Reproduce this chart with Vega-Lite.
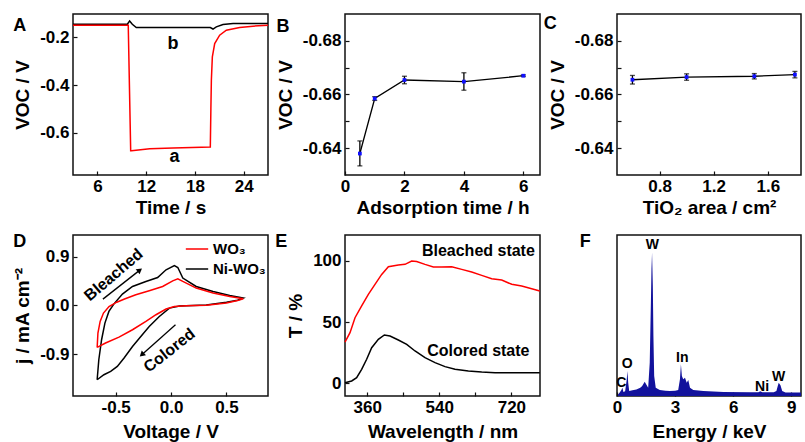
{
 "$schema": "https://vega.github.io/schema/vega-lite/v6.json",
 "background": "white",
 "padding": {"left": 12, "top": 13, "right": 0, "bottom": 0},
 "autosize": {"type": "pad"},
 "columns": 3,
 "spacing": {"row": 60, "column": 77},
 "bounds": "flush",
 "resolve": {"scale": {"color": "independent"}, "legend": {"color": "independent"}},
 "datasets": {
  "A": [
   {"s":"b","t":3,"v":-0.145},{"s":"b","t":9.69,"v":-0.145},{"s":"b","t":9.97,"v":-0.131},{"s":"b","t":10.3,"v":-0.145},{"s":"b","t":10.79,"v":-0.159},{"s":"b","t":15.3,"v":-0.159},{"s":"b","t":19.9,"v":-0.159},{"s":"b","t":20.23,"v":-0.165},{"s":"b","t":20.64,"v":-0.156},{"s":"b","t":21.46,"v":-0.146},{"s":"b","t":22.7,"v":-0.142},{"s":"b","t":27,"v":-0.142},
   {"s":"a","t":3,"v":-0.149},{"s":"a","t":9.8,"v":-0.149},{"s":"a","t":10.1,"v":-0.675},{"s":"a","t":10.2,"v":-0.675},{"s":"a","t":12.44,"v":-0.667},{"s":"a","t":15.31,"v":-0.664},{"s":"a","t":19.9,"v":-0.66},{"s":"a","t":19.97,"v":-0.5},{"s":"a","t":20.03,"v":-0.38},{"s":"a","t":20.15,"v":-0.282},{"s":"a","t":20.44,"v":-0.226},{"s":"a","t":21.05,"v":-0.191},{"s":"a","t":21.87,"v":-0.17},{"s":"a","t":23.51,"v":-0.159},{"s":"a","t":25.15,"v":-0.153},{"s":"a","t":27,"v":-0.149}
  ],
  "B": [
   {"h":0.5,"v":-0.638,"lo":-0.6427,"hi":-0.6334},
   {"h":1,"v":-0.6585,"lo":-0.6592,"hi":-0.6578},
   {"h":2,"v":-0.6654,"lo":-0.6668,"hi":-0.664},
   {"h":4,"v":-0.6648,"lo":-0.6681,"hi":-0.6616},
   {"h":6,"v":-0.667,"lo":-0.6673,"hi":-0.6667}
  ],
  "C": [
   {"a":0.6,"v":-0.6655,"lo":-0.6671,"hi":-0.6639},
   {"a":1.0,"v":-0.6665,"lo":-0.6677,"hi":-0.6653},
   {"a":1.5,"v":-0.6668,"lo":-0.6678,"hi":-0.6658},
   {"a":1.8,"v":-0.6674,"lo":-0.6686,"hi":-0.6662}
  ],
  "D": [
   {"s":"Ni-WO₃","o":1,"V":-0.667,"j":-1.37},{"s":"Ni-WO₃","o":2,"V":-0.652,"j":-1.001},{"s":"Ni-WO₃","o":3,"V":-0.627,"j":-0.632},{"s":"Ni-WO₃","o":4,"V":-0.597,"j":-0.325},{"s":"Ni-WO₃","o":5,"V":-0.561,"j":-0.11},{"s":"Ni-WO₃","o":6,"V":-0.515,"j":0.03},{"s":"Ni-WO₃","o":7,"V":-0.439,"j":0.21},{"s":"Ni-WO₃","o":8,"V":-0.348,"j":0.35},{"s":"Ni-WO₃","o":9,"V":-0.227,"j":0.443},{"s":"Ni-WO₃","o":10,"V":-0.121,"j":0.516},{"s":"Ni-WO₃","o":11,"V":-0.045,"j":0.658},{"s":"Ni-WO₃","o":12,"V":0.03,"j":0.737},{"s":"Ni-WO₃","o":13,"V":0.061,"j":0.7},{"s":"Ni-WO₃","o":14,"V":0.106,"j":0.505},{"s":"Ni-WO₃","o":15,"V":0.227,"j":0.35},{"s":"Ni-WO₃","o":16,"V":0.379,"j":0.258},{"s":"Ni-WO₃","o":17,"V":0.53,"j":0.184},{"s":"Ni-WO₃","o":18,"V":0.652,"j":0.136},{"s":"Ni-WO₃","o":19,"V":0.6,"j":0.095},{"s":"Ni-WO₃","o":20,"V":0.5,"j":0.06},{"s":"Ni-WO₃","o":21,"V":0.318,"j":0.01},{"s":"Ni-WO₃","o":22,"V":0.136,"j":-0.005},{"s":"Ni-WO₃","o":23,"V":0.076,"j":-0.01},{"s":"Ni-WO₃","o":24,"V":-0.015,"j":-0.048},{"s":"Ni-WO₃","o":25,"V":-0.106,"j":-0.203},{"s":"Ni-WO₃","o":26,"V":-0.197,"j":-0.387},{"s":"Ni-WO₃","o":27,"V":-0.273,"j":-0.572},{"s":"Ni-WO₃","o":28,"V":-0.348,"j":-0.756},{"s":"Ni-WO₃","o":29,"V":-0.424,"j":-0.97},{"s":"Ni-WO₃","o":30,"V":-0.485,"j":-1.125},{"s":"Ni-WO₃","o":31,"V":-0.545,"j":-1.217},{"s":"Ni-WO₃","o":32,"V":-0.606,"j":-1.278},{"s":"Ni-WO₃","o":33,"V":-0.667,"j":-1.37},
   {"s":"WO₃","o":1,"V":-0.667,"j":-0.774},{"s":"WO₃","o":2,"V":-0.66,"j":-0.509},{"s":"WO₃","o":3,"V":-0.64,"j":-0.295},{"s":"WO₃","o":4,"V":-0.61,"j":-0.14},{"s":"WO₃","o":5,"V":-0.56,"j":-0.02},{"s":"WO₃","o":6,"V":-0.49,"j":0.06},{"s":"WO₃","o":7,"V":-0.42,"j":0.12},{"s":"WO₃","o":8,"V":-0.318,"j":0.197},{"s":"WO₃","o":9,"V":-0.197,"j":0.271},{"s":"WO₃","o":10,"V":-0.076,"j":0.35},{"s":"WO₃","o":11,"V":0.015,"j":0.455},{"s":"WO₃","o":12,"V":0.061,"j":0.492},{"s":"WO₃","o":13,"V":0.106,"j":0.443},{"s":"WO₃","o":14,"V":0.227,"j":0.321},{"s":"WO₃","o":15,"V":0.379,"j":0.229},{"s":"WO₃","o":16,"V":0.53,"j":0.166},{"s":"WO₃","o":17,"V":0.652,"j":0.124},{"s":"WO₃","o":18,"V":0.6,"j":0.09},{"s":"WO₃","o":19,"V":0.5,"j":0.045},{"s":"WO₃","o":20,"V":0.318,"j":0.005},{"s":"WO₃","o":21,"V":0.136,"j":-0.006},{"s":"WO₃","o":22,"V":0.03,"j":-0.018},{"s":"WO₃","o":23,"V":-0.045,"j":-0.066},{"s":"WO₃","o":24,"V":-0.136,"j":-0.171},{"s":"WO₃","o":25,"V":-0.227,"j":-0.295},{"s":"WO₃","o":26,"V":-0.348,"j":-0.448},{"s":"WO₃","o":27,"V":-0.47,"j":-0.583},{"s":"WO₃","o":28,"V":-0.591,"j":-0.693},{"s":"WO₃","o":29,"V":-0.667,"j":-0.774}
  ],
  "E": [
   {"s":"bleached","nm":304.5,"T":33.7},{"s":"bleached","nm":317,"T":41.4},{"s":"bleached","nm":329.5,"T":53.6},{"s":"bleached","nm":346.1,"T":63.2},{"s":"bleached","nm":362.8,"T":72.7},{"s":"bleached","nm":379.4,"T":80.9},{"s":"bleached","nm":396.1,"T":89.0},{"s":"bleached","nm":412.8,"T":95.3},{"s":"bleached","nm":437.7,"T":96.6},{"s":"bleached","nm":454.4,"T":97.2},{"s":"bleached","nm":471,"T":99.9},{"s":"bleached","nm":483.5,"T":99.6},{"s":"bleached","nm":504.3,"T":97.2},{"s":"bleached","nm":525.2,"T":95.0},{"s":"bleached","nm":546,"T":95.0},{"s":"bleached","nm":571,"T":95.3},{"s":"bleached","nm":596,"T":93.1},{"s":"bleached","nm":620.9,"T":90.9},{"s":"bleached","nm":645.9,"T":88.2},{"s":"bleached","nm":670.9,"T":85.5},{"s":"bleached","nm":695.9,"T":84.4},{"s":"bleached","nm":720.9,"T":80.9},{"s":"bleached","nm":745.8,"T":79.5},{"s":"bleached","nm":770.8,"T":77.3},{"s":"bleached","nm":791,"T":75.4},
   {"s":"colored","nm":304.5,"T":0.5},{"s":"colored","nm":321.2,"T":1.9},{"s":"colored","nm":333.6,"T":4.6},{"s":"colored","nm":346.1,"T":11.4},{"s":"colored","nm":358.6,"T":19.6},{"s":"colored","nm":371.1,"T":29.1},{"s":"colored","nm":387.8,"T":35.9},{"s":"colored","nm":402.8,"T":39.5},{"s":"colored","nm":416.9,"T":38.6},{"s":"colored","nm":437.7,"T":35.4},{"s":"colored","nm":458.6,"T":31.8},{"s":"colored","nm":479.4,"T":26.4},{"s":"colored","nm":504.3,"T":20.9},{"s":"colored","nm":529.3,"T":16.9},{"s":"colored","nm":554.3,"T":13.6},{"s":"colored","nm":579.3,"T":11.4},{"s":"colored","nm":612.6,"T":10.0},{"s":"colored","nm":645.9,"T":9.2},{"s":"colored","nm":679.2,"T":8.7},{"s":"colored","nm":720.9,"T":8.7},{"s":"colored","nm":791,"T":8.7}
  ],
  "F": [
   {"k":0.05,"c":1},{"k":0.14,"c":2.1},{"k":0.22,"c":3.5},{"k":0.28,"c":5.2},{"k":0.33,"c":2.5},{"k":0.42,"c":3},{"k":0.5,"c":10},{"k":0.54,"c":15.5},{"k":0.58,"c":8},{"k":0.63,"c":3.1},{"k":0.8,"c":3.5},{"k":1.0,"c":4.1},{"k":1.2,"c":5.2},{"k":1.3,"c":6.2},{"k":1.43,"c":8.9},{"k":1.52,"c":7},{"k":1.61,"c":5.2},{"k":1.69,"c":20.7},{"k":1.75,"c":58},{"k":1.78,"c":78.7},{"k":1.81,"c":89},{"k":1.85,"c":68.3},{"k":1.88,"c":37.3},{"k":1.92,"c":12.4},{"k":2.0,"c":5.2},{"k":2.21,"c":3.7},{"k":2.5,"c":3.3},{"k":2.73,"c":3.1},{"k":3.0,"c":3.3},{"k":3.16,"c":3.7},{"k":3.25,"c":10.4},{"k":3.3,"c":19.7},{"k":3.35,"c":12.4},{"k":3.42,"c":10.4},{"k":3.51,"c":11.4},{"k":3.6,"c":8.3},{"k":3.68,"c":10.0},{"k":3.77,"c":5.2},{"k":3.94,"c":3.7},{"k":4.46,"c":3.1},{"k":5.5,"c":2.5},{"k":6.88,"c":2.3},{"k":7.3,"c":2.3},{"k":7.4,"c":2.9},{"k":7.5,"c":2.3},{"k":8.09,"c":2.3},{"k":8.23,"c":3.1},{"k":8.3,"c":6.2},{"k":8.35,"c":8.3},{"k":8.44,"c":6.6},{"k":8.53,"c":3.1},{"k":8.7,"c":2.1},{"k":9.5,"c":2.1}
  ]
 },
 "concat": [
  {
   "width": 195, "height": 161,
   "layer": [
    {"data": {"name": "A"}, "mark": {"type": "line", "strokeWidth": 1.5},
     "encoding": {
      "x": {"field": "t", "type": "quantitative", "scale": {"domain": [3, 27], "nice": false, "zero": false},
            "axis": {"title": "Time / s", "labelOverlap": false, "values": [6, 9, 12, 15, 18, 21, 24], "labelExpr": "datum.value % 6 === 0 ? datum.label : ''"}},
      "y": {"field": "v", "type": "quantitative", "scale": {"domain": [-0.777, -0.102], "nice": false, "zero": false},
            "axis": {"title": "VOC / V", "labelOverlap": false, "values": [-0.6, -0.4, -0.2], "format": ".1f"}},
      "color": {"field": "s", "type": "nominal", "scale": {"domain": ["a", "b"], "range": ["#ff0000", "#000000"]}, "legend": null}
     }},
    {"data": {"values": [{"t": 15.5, "v": -0.703, "label": "a"}, {"t": 15.3, "v": -0.228, "label": "b"}]},
     "mark": {"type": "text", "fontSize": 18, "fontWeight": "bold", "font": "Liberation Sans", "baseline": "middle"},
     "encoding": {"x": {"field": "t", "type": "quantitative"}, "y": {"field": "v", "type": "quantitative"}, "text": {"field": "label"}}},
    {"data": {"values": [{"t": -3.56, "v": -0.153, "label": "A"}]},
     "mark": {"type": "text", "fontSize": 18, "fontWeight": "bold", "font": "Liberation Sans", "baseline": "middle"},
     "encoding": {"x": {"field": "t", "type": "quantitative"}, "y": {"field": "v", "type": "quantitative"}, "text": {"field": "label"}}}
   ]
  },
  {
   "width": 195, "height": 161,
   "layer": [
    {"data": {"name": "B"}, "mark": {"type": "line", "strokeWidth": 1.3, "color": "#000000"},
     "encoding": {
      "x": {"field": "h", "type": "quantitative", "scale": {"domain": [0, 6.56], "nice": false, "zero": false},
            "axis": {"title": "Adsorption time / h", "labelOverlap": false, "values": [0, 1, 2, 3, 4, 5, 6], "labelExpr": "datum.value % 2 === 0 ? datum.label : ''"}},
      "y": {"field": "v", "type": "quantitative", "scale": {"domain": [-0.69, -0.63], "reverse": true, "nice": false, "zero": false},
            "axis": {"title": "VOC / V", "labelOverlap": false, "values": [-0.68, -0.67, -0.66, -0.65, -0.64], "format": ".2f", "labelExpr": "abs(round(datum.value*100)) % 2 === 0 ? datum.label : ''"}}
     }},
    {"data": {"name": "B"}, "mark": {"type": "errorbar", "color": "#000000", "thickness": 1.3, "ticks": {"size": 5, "thickness": 1.3}},
     "encoding": {
      "x": {"field": "h", "type": "quantitative"},
      "y": {"field": "lo", "type": "quantitative", "title": "VOC / V"},
      "y2": {"field": "hi"}
     }},
    {"data": {"name": "B"}, "mark": {"type": "point", "filled": true, "color": "#1010ff", "size": 14, "shape": "square", "opacity": 1},
     "encoding": {"x": {"field": "h", "type": "quantitative"}, "y": {"field": "v", "type": "quantitative"}}},
    {"data": {"values": [{"h": -2.086, "v": -0.6853, "label": "B"}]},
     "mark": {"type": "text", "fontSize": 18, "fontWeight": "bold", "font": "Liberation Sans", "baseline": "middle"},
     "encoding": {"x": {"field": "h", "type": "quantitative"}, "y": {"field": "v", "type": "quantitative"}, "text": {"field": "label"}}}
   ]
  },
  {
   "width": 184, "height": 161,
   "layer": [
    {"data": {"name": "C"}, "mark": {"type": "line", "strokeWidth": 1.3, "color": "#000000"},
     "encoding": {
      "x": {"field": "a", "type": "quantitative", "scale": {"domain": [0.486, 1.845], "nice": false, "zero": false},
            "axis": {"title": "TiO₂ area / cm²", "labelOverlap": false, "values": [0.8, 1.2, 1.6]}},
      "y": {"field": "v", "type": "quantitative", "scale": {"domain": [-0.69, -0.63], "reverse": true, "nice": false, "zero": false},
            "axis": {"title": "VOC / V", "labelOverlap": false, "values": [-0.68, -0.67, -0.66, -0.65, -0.64], "format": ".2f", "labelExpr": "abs(round(datum.value*100)) % 2 === 0 ? datum.label : ''"}}
     }},
    {"data": {"name": "C"}, "mark": {"type": "errorbar", "color": "#000000", "thickness": 1.3, "ticks": {"size": 5, "thickness": 1.3}},
     "encoding": {
      "x": {"field": "a", "type": "quantitative"},
      "y": {"field": "lo", "type": "quantitative", "title": "VOC / V"},
      "y2": {"field": "hi"}
     }},
    {"data": {"name": "C"}, "mark": {"type": "point", "filled": true, "color": "#1010ff", "size": 14, "shape": "square", "opacity": 1},
     "encoding": {"x": {"field": "a", "type": "quantitative"}, "y": {"field": "v", "type": "quantitative"}}},
    {"data": {"values": [{"a": -0.007, "v": -0.6863, "label": "C"}]},
     "mark": {"type": "text", "fontSize": 18, "fontWeight": "bold", "font": "Liberation Sans", "baseline": "middle"},
     "encoding": {"x": {"field": "a", "type": "quantitative"}, "y": {"field": "v", "type": "quantitative"}, "text": {"field": "label"}}}
   ]
  },
  {
   "width": 195, "height": 161,
   "layer": [
    {"data": {"name": "D"}, "mark": {"type": "line", "strokeWidth": 1.5},
     "encoding": {
      "x": {"field": "V", "type": "quantitative", "scale": {"domain": [-0.885, 0.875], "nice": false, "zero": false},
            "axis": {"title": "Voltage / V", "titlePadding": 7, "labelOverlap": false, "values": [-0.5, 0, 0.5]}},
      "y": {"field": "j", "type": "quantitative", "scale": {"domain": [-1.67, 1.3], "nice": false, "zero": false},
            "axis": {"title": "j / mA cm⁻²", "labelOverlap": false, "values": [-0.9, 0, 0.9], "format": ".1f"}},
      "color": {"field": "s", "type": "nominal", "scale": {"domain": ["WO₃", "Ni-WO₃"], "range": ["#ff0000", "#000000"]},
                "legend": {"orient": "top-right", "title": null, "offset": 2}},
      "order": {"field": "o", "type": "quantitative"}
     }},
    {"data": {"values": [{"V": -0.615, "j": 0.117, "V2": -0.282, "j2": 0.652}, {"V": 0.04, "j": -0.356, "V2": -0.264, "j2": -0.909}]},
     "mark": {"type": "rule", "color": "#000000", "strokeWidth": 1.3},
     "encoding": {"x": {"field": "V", "type": "quantitative"}, "y": {"field": "j", "type": "quantitative"}, "x2": {"field": "V2"}, "y2": {"field": "j2"}}},
    {"data": {"values": [{"V": -0.282, "j": 0.652}]},
     "mark": {"type": "point", "shape": "triangle-up", "filled": true, "color": "#000000", "opacity": 1, "size": 40, "angle": 52},
     "encoding": {"x": {"field": "V", "type": "quantitative"}, "y": {"field": "j", "type": "quantitative"}}},
    {"data": {"values": [{"V": -0.264, "j": -0.909}]},
     "mark": {"type": "point", "shape": "triangle-up", "filled": true, "color": "#000000", "opacity": 1, "size": 40, "angle": 228},
     "encoding": {"x": {"field": "V", "type": "quantitative"}, "y": {"field": "j", "type": "quantitative"}}},
    {"data": {"values": [{"V": -0.518, "j": 0.563, "label": "Bleached"}]},
     "mark": {"type": "text", "fontSize": 16, "fontWeight": "bold", "font": "Liberation Sans", "baseline": "middle", "angle": -40.5},
     "encoding": {"x": {"field": "V", "type": "quantitative"}, "y": {"field": "j", "type": "quantitative"}, "text": {"field": "label"}}},
    {"data": {"values": [{"V": -0.015, "j": -0.83, "label": "Colored"}]},
     "mark": {"type": "text", "fontSize": 16, "fontWeight": "bold", "font": "Liberation Sans", "baseline": "middle", "angle": -38},
     "encoding": {"x": {"field": "V", "type": "quantitative"}, "y": {"field": "j", "type": "quantitative"}, "text": {"field": "label"}}},
    {"data": {"values": [{"V": -1.366, "j": 1.176, "label": "D"}]},
     "mark": {"type": "text", "fontSize": 18, "fontWeight": "bold", "font": "Liberation Sans", "baseline": "middle"},
     "encoding": {"x": {"field": "V", "type": "quantitative"}, "y": {"field": "j", "type": "quantitative"}, "text": {"field": "label"}}}
   ]
  },
  {
   "width": 195, "height": 161,
   "layer": [
    {"data": {"name": "E"}, "mark": {"type": "line", "strokeWidth": 1.5},
     "encoding": {
      "x": {"field": "nm", "type": "quantitative", "scale": {"domain": [304.5, 791.5], "nice": false, "zero": false},
            "axis": {"title": "Wavelength / nm", "titlePadding": 7, "labelOverlap": false, "values": [360, 450, 540, 630, 720], "labelExpr": "datum.value % 180 === 0 ? datum.label : ''"}},
      "y": {"field": "T", "type": "quantitative", "scale": {"domain": [-10.4, 121.2], "nice": false, "zero": false},
            "axis": {"title": "T / %", "labelOverlap": false, "values": [0, 50, 100]}},
      "color": {"field": "s", "type": "nominal", "scale": {"domain": ["bleached", "colored"], "range": ["#ff0000", "#000000"]}, "legend": null}
     }},
    {"data": {"values": [{"nm": 637.6, "T": 108.1, "label": "Bleached state"}, {"nm": 637.6, "T": 26.4, "label": "Colored state"}]},
     "mark": {"type": "text", "fontSize": 16, "fontWeight": "bold", "font": "Liberation Sans", "baseline": "middle"},
     "encoding": {"x": {"field": "nm", "type": "quantitative"}, "y": {"field": "T", "type": "quantitative"}, "text": {"field": "label"}}},
    {"data": {"values": [{"nm": 145.4, "T": 115.7, "label": "E"}]},
     "mark": {"type": "text", "fontSize": 18, "fontWeight": "bold", "font": "Liberation Sans", "baseline": "middle"},
     "encoding": {"x": {"field": "nm", "type": "quantitative"}, "y": {"field": "T", "type": "quantitative"}, "text": {"field": "label"}}}
   ]
  },
  {
   "width": 184, "height": 161,
   "layer": [
    {"data": {"name": "F"}, "mark": {"type": "area", "color": "#12129c", "opacity": 1},
     "encoding": {
      "x": {"field": "k", "type": "quantitative", "scale": {"domain": [0, 9.5], "nice": false, "zero": false},
            "axis": {"title": "Energy / keV", "titlePadding": 7, "labelOverlap": false, "values": [0, 1.5, 3, 4.5, 6, 7.5, 9], "labelExpr": "datum.value % 3 === 0 ? datum.label : ''"}},
      "y": {"field": "c", "type": "quantitative", "scale": {"domain": [0, 100], "nice": false, "zero": false}, "axis": null}
     }},
    {"data": {"values": [{"k": 1.83, "c": 93.6, "label": "W"}, {"k": 0.52, "c": 20, "label": "O"}, {"k": 0.22, "c": 8.3, "label": "C"}, {"k": 3.37, "c": 23.6, "label": "In"}, {"k": 7.49, "c": 5.8, "label": "Ni"}, {"k": 8.35, "c": 11.6, "label": "W"}]},
     "mark": {"type": "text", "fontSize": 14, "fontWeight": "bold", "font": "Liberation Sans", "baseline": "middle"},
     "encoding": {"x": {"field": "k", "type": "quantitative"}, "y": {"field": "c", "type": "quantitative"}, "text": {"field": "label"}}},
    {"data": {"values": [{"k": -1.64, "c": 95.8, "label": "F"}]},
     "mark": {"type": "text", "fontSize": 18, "fontWeight": "bold", "font": "Liberation Sans", "baseline": "middle"},
     "encoding": {"x": {"field": "k", "type": "quantitative"}, "y": {"field": "c", "type": "quantitative"}, "text": {"field": "label"}}}
   ]
  }
 ],
 "config": {
  "font": "Liberation Sans",
  "locale": {"number": {"decimal": ".", "thousands": ",", "grouping": [3], "currency": ["$", ""], "minus": "-"}},
  "view": {"stroke": "#111111", "strokeWidth": 1.5},
  "axis": {
   "domain": false, "grid": false, "ticks": true, "tickSize": -4, "tickColor": "#111111", "tickWidth": 1.2,
   "labelFont": "Liberation Sans", "labelFontSize": 17, "labelFontWeight": "bold", "labelColor": "#000000",
   "labelFlush": false, "labelOverlap": false,
   "titleFont": "Liberation Sans", "titleFontSize": 19, "titleFontWeight": "bold", "titleColor": "#000000"
  },
  "axisX": {"labelPadding": 7, "titlePadding": 4},
  "axisY": {"labelPadding": 8, "titlePadding": 7},
  "legend": {
   "labelFont": "Liberation Sans", "labelFontSize": 15, "labelFontWeight": "bold", "labelColor": "#000000",
   "symbolType": "stroke", "symbolStrokeWidth": 1.5, "symbolSize": 500, "rowPadding": -1, "labelOffset": 4,
   "padding": 0
  }
 }
}
